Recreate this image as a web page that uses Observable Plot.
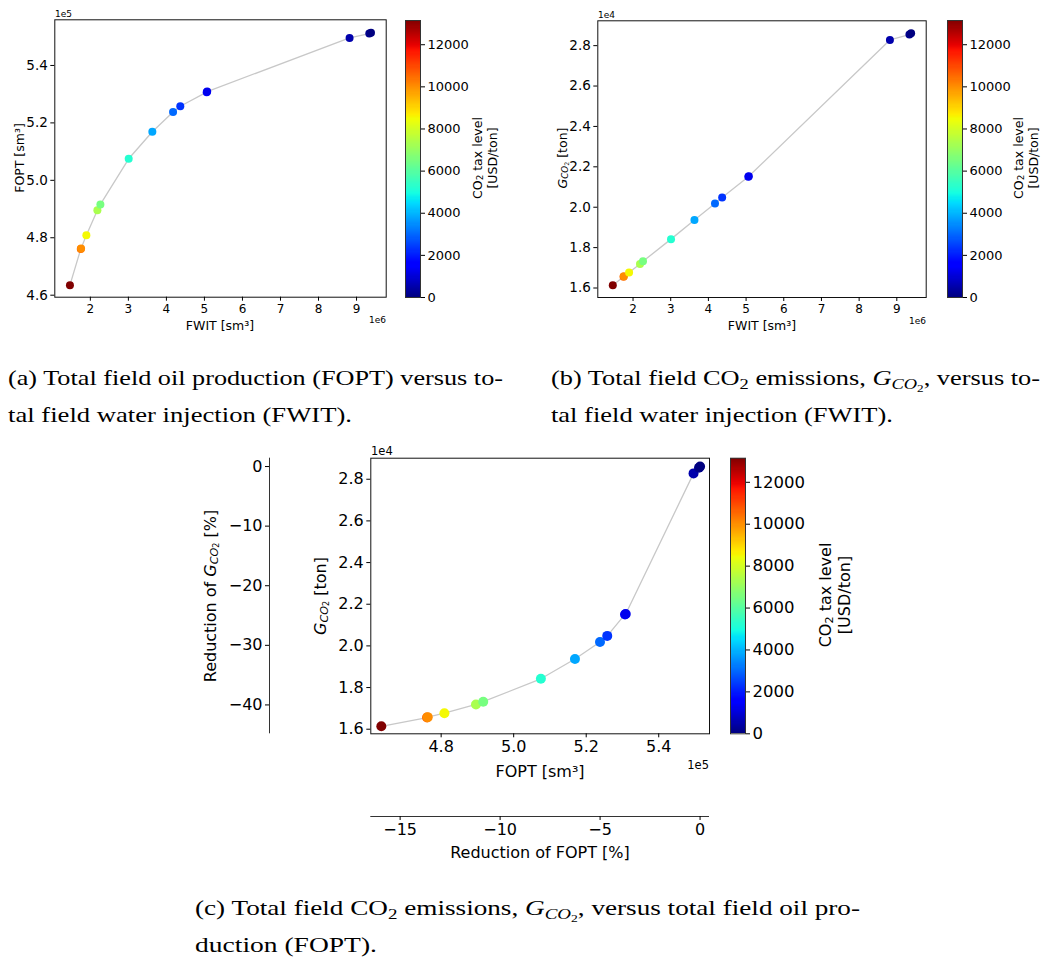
<!DOCTYPE html>
<html><head><meta charset="utf-8">
<script src="https://cdn.jsdelivr.net/npm/d3@7"></script>
<script src="https://cdn.jsdelivr.net/npm/@observablehq/plot@0.6"></script>
<style>
html,body{margin:0;padding:0;background:#fff;}
#fig{position:relative;width:1046px;height:958px;overflow:hidden;font-family:"DejaVu Sans";}
#fig > svg{position:absolute;}
.cap{font-family:'Liberation Serif','Times New Roman',serif;}
</style></head><body><div id="fig"></div>
<script>
// ---- data ----
const taxLevel = [13150, 10500, 10000, 8500, 7300, 6500, 5200, 3800, 3000, 2300, 1500, 1250, 500, 150, 0]; // USD/ton
const fwit = [1.463e6, 1.748e6, 1.756e6, 1.895e6, 2.185e6, 2.264e6, 3.008e6, 3.630e6, 4.175e6, 4.365e6, 5.060e6, 5.072e6, 8.817e6, 9.335e6, 9.380e6]; // sm3
const fopt = [4.635e5, 4.761e5, 4.763e5, 4.809e5, 4.896e5, 4.916e5, 5.075e5, 5.169e5, 5.238e5, 5.258e5, 5.307e5, 5.309e5, 5.496e5, 5.511e5, 5.514e5]; // sm3
const gco2 = [1.614e4, 1.656e4, 1.658e4, 1.677e4, 1.719e4, 1.732e4, 1.842e4, 1.937e4, 2.019e4, 2.048e4, 2.151e4, 2.153e4, 2.828e4, 2.855e4, 2.861e4]; // ton

const xTicksFWIT = [2e6, 3e6, 4e6, 5e6, 6e6, 7e6, 8e6, 9e6];
const yTicksFOPT = [4.6e5, 4.8e5, 5.0e5, 5.2e5, 5.4e5];
const yTicksG = [1.6e4, 1.8e4, 2.0e4, 2.2e4, 2.4e4, 2.6e4, 2.8e4];
const xTicksFOPT = [4.8e5, 5.0e5, 5.2e5, 5.4e5];
const cbarTicks = [0, 2000, 4000, 6000, 8000, 10000, 12000];
const redFOPTTicks = [-15, -10, -5, 0];
const redGTicks = [-40, -30, -20, -10, 0];
const taxMax = 13150;

const rows = taxLevel.map((t, i) => ({tax: t, fwit: fwit[i], fopt: fopt[i], g: gco2[i]}));
const foptRef = d3.max(fopt), gRef = d3.max(gco2);

// matplotlib "jet" colormap as an interpolator
const jetR = [[0,0],[0.35,0],[0.66,1],[0.89,1],[1,0.5]];
const jetG = [[0,0],[0.125,0],[0.375,1],[0.64,1],[0.91,0],[1,0]];
const jetB = [[0,0.5],[0.11,1],[0.34,1],[0.65,0],[1,0]];
function seg(pts, t){ for (let i = 1; i < pts.length; i++){ if (t <= pts[i][0]) { const [x0,y0] = pts[i-1], [x1,y1] = pts[i]; return y0 + (y1-y0)*(t-x0)/(x1-x0); } } return pts[pts.length-1][1]; }
const jet = t => { t = Math.max(0, Math.min(1, t)); return d3.rgb(255*seg(jetR,t), 255*seg(jetG,t), 255*seg(jetB,t)).formatHex(); };
const colorScale = {type: "linear", domain: [0, taxMax], interpolate: jet};

const fig = document.getElementById("fig");
const minus = s => String(s).replace("-", "\u2212");
const baseStyle = {fontFamily: "DejaVu Sans", color: "#000", background: "none", overflow: "visible"};

function place(svg, left, top){ svg.style.left = left + "px"; svg.style.top = top + "px"; fig.append(svg); }

function scatter(o){
  const p = Plot.plot({
    width: o.width, height: o.height,
    marginLeft: o.mL, marginRight: o.mR, marginTop: o.mT, marginBottom: o.mB,
    style: baseStyle,
    x: {domain: o.xDomain, label: null},
    y: {domain: o.yDomain, label: null},
    color: colorScale,
    marks: [
      Plot.line(rows, {x: o.xKey, y: o.yKey, stroke: "#c8c8c8", strokeWidth: 1.3}),
      Plot.dot(rows, {x: o.xKey, y: o.yKey, fill: "tax", r: o.r}),
      Plot.frame({stroke: "#111", strokeWidth: 1}),
      Plot.axisX({ticks: o.xTicks, tickFormat: o.xFmt, tickSize: 4, tickPadding: 3, fontSize: o.xFont, label: null}),
      Plot.axisY({ticks: o.yTicks, tickFormat: o.yFmt, tickSize: 4, tickPadding: 3, fontSize: o.yFont, label: null})
    ]
  });
  place(p, o.left, o.top);
}

function colorbar(o){
  const step = taxMax / 256;
  const ramp = d3.range(256).map(i => i * step);
  const p = Plot.plot({
    width: 15 + 70, height: o.height,
    marginLeft: 0, marginRight: 70, marginTop: o.mT, marginBottom: o.mB,
    style: baseStyle,
    x: {domain: [0, 1], axis: null},
    y: {domain: [0, taxMax], label: null},
    color: colorScale,
    marks: [
      Plot.rect(ramp, {x1: 0, x2: 1, y1: d => d, y2: d => Math.min(taxMax, d + step * 1.5), fill: d => d + step / 2, shapeRendering: "crispEdges"}),
      Plot.frame({stroke: "#333", strokeWidth: 1}),
      Plot.axisY({anchor: "right", ticks: cbarTicks, tickFormat: d => String(d), tickSize: 4, tickPadding: 3, fontSize: o.font, label: null})
    ]
  });
  place(p, o.left, o.top);
}

const f1 = d => (d / 1e5).toFixed(1);
const fG = d => (d / 1e4).toFixed(1);
const fW = d => String(Math.round(d / 1e6));

// (a) FOPT vs FWIT
scatter({left: 0, top: 0, width: 400, height: 340, mL: 54.3, mR: 14.3, mT: 19.3, mB: 43.3,
  xKey: "fwit", yKey: "fopt", xDomain: [1.065e6, 9.78e6], yDomain: [4.593e5, 5.559e5],
  xTicks: xTicksFWIT, yTicks: yTicksFOPT, xFmt: fW, yFmt: f1, xFont: 12, yFont: 13.5, r: 4});
colorbar({left: 405, top: 0, height: 340, mT: 20, mB: 43, font: 13});

// (b) G_CO2 vs FWIT
scatter({left: 540, top: 0, width: 400, height: 340, mL: 57.3, mR: 14.3, mT: 20.3, mB: 43,
  xKey: "fwit", yKey: "g", xDomain: [1.065e6, 9.78e6], yDomain: [1.553e4, 2.923e4],
  xTicks: xTicksFWIT, yTicks: yTicksG, xFmt: fW, yFmt: fG, xFont: 12, yFont: 13.5, r: 4});
colorbar({left: 947, top: 0, height: 340, mT: 20, mB: 43, font: 13});

// (c) G_CO2 vs FOPT
const cX = [4.606e5, 5.540e5], cY = [1.578e4, 2.901e4];
scatter({left: 290, top: 440, width: 440, height: 340, mL: 80.3, mR: 21, mT: 17.7, mB: 46.7,
  xKey: "fopt", yKey: "g", xDomain: cX, yDomain: cY,
  xTicks: xTicksFOPT, yTicks: yTicksG, xFmt: f1, yFmt: fG, xFont: 16, yFont: 16, r: 5});
colorbar({left: 730, top: 440, height: 340, mT: 17.7, mB: 46.7, font: 16.5});

// secondary axis: reduction of G_CO2 [%]
{
  const p = Plot.plot({
    width: 81, height: 340, marginLeft: 80, marginRight: 0, marginTop: 17.7, marginBottom: 46.7,
    style: baseStyle,
    x: {domain: [0, 1], axis: null},
    y: {domain: cY.map(v => (v / gRef - 1) * 100), label: null},
    marks: [
      Plot.ruleX([0], {stroke: "#333", strokeWidth: 1}),
      Plot.axisY({anchor: "left", ticks: redGTicks, tickFormat: minus, tickSize: 4, tickPadding: 3, fontSize: 16, label: null})
    ]
  });
  place(p, 189, 440);
}
// secondary axis: reduction of FOPT [%]
{
  const p = Plot.plot({
    width: 440, height: 60, marginLeft: 80.3, marginRight: 21, marginTop: 15, marginBottom: 44,
    style: baseStyle,
    x: {domain: cX.map(v => (v / foptRef - 1) * 100), label: null},
    y: {domain: [0, 1], axis: null},
    marks: [
      Plot.ruleY([0], {stroke: "#333", strokeWidth: 1}),
      Plot.axisX({anchor: "bottom", ticks: redFOPTTicks, tickFormat: minus, tickSize: 4, tickPadding: 3, fontSize: 16, label: null})
    ]
  });
  place(p, 290, 800);
}

// ---- text overlay: axis titles, offsets, captions ----
const ov = d3.select(fig).append("svg").attr("width", 1046).attr("height", 958)
  .style("left", "0px").style("top", "0px").style("pointer-events", "none");

function txt(x, y, segs, {size = 12, rotate = 0, anchor = "middle", family = "DejaVu Sans", baseline = "central", len = null, cls = null} = {}){
  const t = ov.append("text").attr("x", x).attr("y", y).attr("font-size", size)
    .attr("text-anchor", anchor).attr("fill", "#000");
  if (cls) t.attr("class", cls); else t.attr("font-family", family);
  if (baseline) t.attr("dominant-baseline", baseline);
  if (rotate) t.attr("transform", `rotate(${rotate},${x},${y})`);
  if (len) t.attr("textLength", len).attr("lengthAdjust", "spacingAndGlyphs");
  if (typeof segs === "string") segs = [{t: segs}];
  for (const s of segs){
    const sp = t.append("tspan").text(s.t);
    if (s.it) sp.attr("font-style", "italic");
    if (s.fs) sp.attr("font-size", size * s.fs);
    if (s.dy) sp.attr("dy", s.dy * size);
  }
}
const gLabel = (after) => [{t: "G", it: 1}, {t: "CO", it: 1, fs: 0.7, dy: 0.25}, {t: "2", fs: 0.5, dy: 0.1}, {t: after, dy: -0.35}];
const taxLine1 = [{t: "CO"}, {t: "2", fs: 0.7, dy: 0.25}, {t: " tax level", dy: -0.25}];

// (a)
txt(19, 158, "FOPT [sm³]", {size: 12.5, rotate: -90});
txt(220, 325, "FWIT [sm³]", {size: 12.5});
txt(55, 14, "1e5", {size: 9, anchor: "start"});
txt(386, 320, "1e6", {size: 9, anchor: "end"});
txt(477, 158, taxLine1, {size: 12.5, rotate: -90});
txt(492, 158, "[USD/ton]", {size: 12.5, rotate: -90});
// (b)
txt(562, 158, gLabel(" [ton]"), {size: 12.5, rotate: -90});
txt(762, 325, "FWIT [sm³]", {size: 12.5});
txt(598, 15, "1e4", {size: 9, anchor: "start"});
txt(926, 321, "1e6", {size: 9, anchor: "end"});
txt(1018, 158, taxLine1, {size: 12.5, rotate: -90});
txt(1033, 158, "[USD/ton]", {size: 12.5, rotate: -90});
// (c)
txt(320, 596, gLabel(" [ton]"), {size: 16, rotate: -90});
txt(540, 771, "FOPT [sm³]", {size: 16});
txt(371, 451, "1e4", {size: 11.5, anchor: "start"});
txt(709, 765, "1e5", {size: 11.5, anchor: "end"});
txt(210, 596, [{t: "Reduction of "}].concat(gLabel(" [%]")), {size: 16, rotate: -90});
txt(540, 852, "Reduction of FOPT [%]", {size: 16});
txt(825, 595, taxLine1, {size: 16, rotate: -90});
txt(844, 595, "[USD/ton]", {size: 16, rotate: -90});

// captions
const cap = {size: 22, anchor: "start", cls: "cap", baseline: null};
txt(8, 385, "(a) Total field oil production (FOPT) versus to-", {...cap, len: 495});
txt(8, 422, "tal field water injection (FWIT).", {...cap, len: 344});
const co2Emis = (pre, post) => [{t: pre + "CO"}, {t: "2", fs: 0.7, dy: 0.2}, {t: " emissions, ", dy: -0.2},
  {t: "G", it: 1}, {t: "CO", it: 1, fs: 0.7, dy: 0.2}, {t: "2", fs: 0.5, dy: 0.1}, {t: post, dy: -0.3}];
txt(551, 385, co2Emis("(b) Total field ", ", versus to-"), {...cap, len: 489});
txt(551, 422, "tal field water injection (FWIT).", {...cap, len: 342});
txt(195, 915, co2Emis("(c) Total field ", ", versus total field oil pro-"), {...cap, len: 665});
txt(195, 952, "duction (FOPT).", {...cap, len: 182});
</script></body></html>
